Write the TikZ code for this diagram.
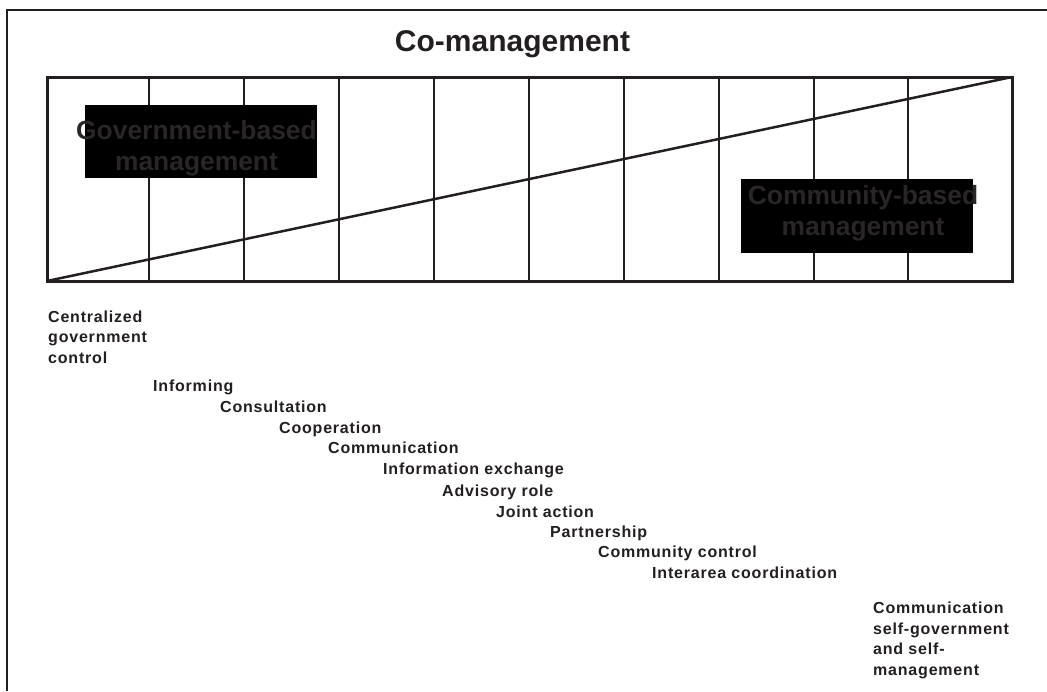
\documentclass[tikz,border=0pt]{standalone}
\usepackage{fontspec}
\setmainfont{Liberation Sans}
\newfontfamily\labfont[LetterSpace=5]{Liberation Sans}
\definecolor{ink}{RGB}{35,31,32}
\definecolor{dimtext}{RGB}{42,38,39}
\tikzset{
  lab/.style={anchor=base west, inner sep=0pt, align=left, text=ink,
    font=\labfont\bfseries\fontsize{16}{20.5}\selectfont},
  boxtext/.style={anchor=base, inner sep=0pt, align=center, text=dimtext,
    font=\bfseries\fontsize{26.4}{31}\selectfont},
  titletext/.style={anchor=base, inner sep=0pt, text=ink,
    font=\bfseries\fontsize{30}{36}\selectfont},
  frameline/.style={draw=ink, line width=1.5pt},
  gridline/.style={draw=ink, line width=2pt},
  boxline/.style={draw=ink, line width=3pt},
  diagline/.style={draw=ink, line width=2.5pt},
  blackbox/.style={fill=black}
}
\begin{document}
\begin{tikzpicture}[x=1pt, y=-1pt]
\useasboundingbox (0,0) rectangle (1047,691);
% outer frame (left and top)
\draw[frameline] (7,691) -- (7,10) -- (1047,10);
% title
\node[titletext] (title) at (512.5,51) {Co-management};
% grid lines
\foreach \gx in {149,244,339,434,529,624,719,814,908}
  \draw[gridline] (\gx,77) -- (\gx,281);
% box outline
\draw[boxline] (47,77) rectangle (1012,281);
% diagonal
\coordinate (bl) at (47,281);
\coordinate (tr) at (1012,77);
\draw[diagline] (bl) -- (tr);
% black boxes
\fill[blackbox] (85,105) rectangle (317,178);
\fill[blackbox] (741,179) rectangle (973,253);
% box texts (anchor base = baseline of last line)
\node[boxtext] (gov) at (196.5,170) {Government-based\\management};
\node[boxtext] (com) at (863,235) {Community-based\\management};
% labels
\node[lab] (l0) at (48,363) {Centralized\\government\\control};
\node[lab] (l1) at (153,391) {Informing};
\node[lab] (l2) at (220,412) {Consultation};
\node[lab] (l3) at (279,433) {Cooperation};
\node[lab] (l4) at (328,453) {Communication};
\node[lab] (l5) at (383,474) {Information exchange};
\node[lab] (l6) at (442,496) {Advisory role};
\node[lab] (l7) at (496,517) {Joint action};
\node[lab] (l8) at (550,537) {Partnership};
\node[lab] (l9) at (598,557) {Community control};
\node[lab] (l10) at (652,578) {Interarea coordination};
\node[lab] (l11) at (873,675) {Communication\\self-government\\and self-\\management};
\end{tikzpicture}
\end{document}
